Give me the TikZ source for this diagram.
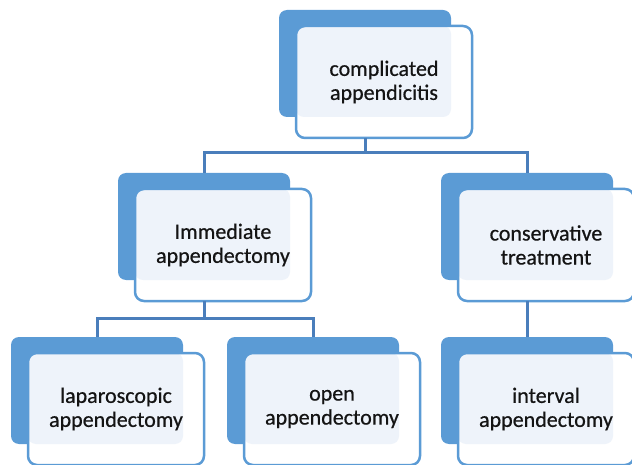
\documentclass[tikz,border=0pt]{standalone}
\usepackage{fontspec}
\setmainfont{Carlito}
\newfontfamily\boxfont{Carlito}[FakeBold=0.6]
\usepackage{tikz}
\usetikzlibrary{positioning, calc}
\definecolor{myblue}{RGB}{91,155,213}
\definecolor{mylink}{RGB}{74,126,187}
\definecolor{mypale}{RGB}{238,243,250}
\definecolor{mytext}{RGB}{20,20,20}
\tikzset{
  backbox/.style={rectangle, fill=myblue, minimum width=172pt,
    minimum height=107pt, rounded corners=8pt, anchor=north west,
    inner sep=0pt, outer sep=0pt},
  frontbox/.style={rectangle, draw=myblue, fill=white, line width=2.5pt,
    minimum width=176pt, minimum height=112pt, rounded corners=9pt,
    align=center, text=mytext, inner sep=0pt, outer sep=0pt,
    font=\boxfont\fontsize{22}{24}\selectfont,
    path picture={\fill[mypale, rounded corners=8pt]
      (path picture bounding box.north west) rectangle ++(155pt,-91pt);}},
  link/.style={draw=mylink, line width=3pt}
}

\begin{document}
\begin{tikzpicture}[x=1pt, y=-1pt]
  \useasboundingbox (0,0) rectangle (632,465);

  % Back boxes
  \node[backbox] (top-b) at (279,10) {};
  \node[backbox] (imm-b) at (118,173) {};
  \node[backbox] (cons-b) at (441,173) {};
  \node[backbox] (lap-b) at (11,337) {};
  \node[backbox] (open-b) at (227,337) {};
  \node[backbox] (int-b) at (441,337) {};

  % Front boxes with text
  \node[frontbox, below right=16pt and 17pt of top-b.north west] (top) {complicated\\appendicitis};
  \node[frontbox, below right=16pt and 17pt of imm-b.north west] (imm) {Immediate\\appendectomy};
  \node[frontbox, below right=16pt and 17pt of cons-b.north west] (cons) {conservative\\treatment};
  \node[frontbox, below right=16pt and 17pt of lap-b.north west] (lap) {laparoscopic\\appendectomy};
  \node[frontbox, below right=16pt and 17pt of open-b.north west] (open) {open\\appendectomy};
  \node[frontbox, below right=16pt and 17pt of int-b.north west] (int) {interval\\appendectomy};

  % Connectors
  \draw[link] (top-b |- top.south) -- (top-b |- 0,153) coordinate (rail1) -| (imm-b.north);
  \draw[link] (rail1) -| (cons-b.north);
  \draw[link] (imm-b |- imm.south) -- (imm-b |- 0,318) coordinate (rail2) -| (lap-b.north);
  \draw[link] (rail2) -| (open-b.north);
  \draw[link] (cons-b |- cons.south) -- (int-b.north);
\end{tikzpicture}
\end{document}
